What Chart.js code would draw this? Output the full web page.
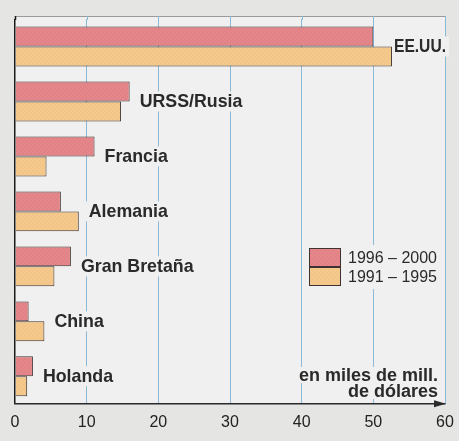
<!DOCTYPE html>
<html><head><meta charset="utf-8">
<script src="https://cdn.jsdelivr.net/npm/chart.js@4"></script>
<style>
html,body{margin:0;padding:0;background:#e5e5e4;overflow:hidden;}
#wrap{width:459px;height:441px;position:relative;}
</style>
</head><body>
<div id="wrap"><canvas id="c"></canvas></div>
<script>
const categories = ['EE.UU.', 'URSS/Rusia', 'Francia', 'Alemania', 'Gran Bretaña', 'China', 'Holanda'];
const series1996_2000 = [50, 16, 11.1, 6.4, 7.8, 1.9, 2.5];
const series1991_1995 = [52.6, 14.8, 4.4, 8.9, 5.5, 4.1, 1.7];
const seriesLabels = ['1996 – 2000', '1991 – 1995'];
const xTickValues = [0, 10, 20, 30, 40, 50, 60];
const unitLines = ['en miles de mill.', 'de dólares'];

const OUTER = '#e5e5e4', PLOT = '#eff0ef', GRID = '#8ab8d7', INK = '#2a2a2a';
const FONT = '"Liberation Sans", Arial, Helvetica, sans-serif';

function makePattern(base, line) {
  const c = document.createElement('canvas');
  c.width = 4; c.height = 4;
  const g = c.getContext('2d');
  g.fillStyle = base; g.fillRect(0, 0, 4, 4);
  g.strokeStyle = line; g.lineWidth = 1;
  g.beginPath(); g.moveTo(0, 4); g.lineTo(4, 0); g.stroke();
  return g.createPattern(c, 'repeat');
}
const redFill = makePattern('#e5878a', '#de8083');
const orangeFill = makePattern('#f5c98b', '#efc284');
const fills = [redFill, orangeFill];

const decorPlugin = {
  id: 'decor',
  beforeDraw(chart) {
    const { ctx, chartArea: a, scales: { x } } = chart;
    ctx.save();
    ctx.fillStyle = OUTER;
    ctx.fillRect(0, 0, chart.width, chart.height);
    const top = a.top - 3;
    ctx.fillStyle = PLOT;
    ctx.fillRect(a.left, top, a.right - a.left, a.bottom - top);
    ctx.strokeStyle = '#9a9a9a'; ctx.lineWidth = 1;
    ctx.beginPath(); ctx.moveTo(a.left, top + 0.5); ctx.lineTo(a.right, top + 0.5); ctx.stroke();
    xTickValues.forEach(v => {
      const px = Math.round(x.getPixelForValue(v)) + 0.5;
      ctx.strokeStyle = v === 0 ? '#1a1a1a' : GRID;
      ctx.lineWidth = v === 0 ? 1.5 : 1;
      ctx.beginPath(); ctx.moveTo(px, top); ctx.lineTo(px, a.top + 1); ctx.stroke();
    });
    ctx.restore();
  },
  afterDatasetsDraw(chart) {
    const { ctx, chartArea: a, scales: { x, y } } = chart;
    ctx.save();
    ctx.font = 'bold 17.8px ' + FONT;
    ctx.textBaseline = 'middle';
    categories.forEach((name, i) => {
      const maxV = Math.max(series1996_2000[i], series1991_1995[i]);
      const barEnd = x.getPixelForValue(maxV);
      const w = ctx.measureText(name).width;
      let tx = barEnd + 10;
      let maxW = w;
      if (tx + w > a.right + 1) { tx = barEnd + 2; maxW = Math.min(w, a.right + 1 - tx); }
      const cy = y.getPixelForValue(i);
      ctx.fillStyle = PLOT;
      const rx = Math.max(tx - 3, barEnd + 1);
      ctx.fillRect(rx, cy - 10, tx + maxW + 3 - rx, 20);
      ctx.fillStyle = INK;
      ctx.fillText(name, tx, cy + 1, maxW);
    });
    ctx.restore();
  },
  afterDraw(chart) {
    const { ctx, chartArea: a } = chart;
    ctx.save();
    ctx.fillStyle = '#2a2a2a';
    ctx.beginPath();
    ctx.moveTo(a.right + 1, a.bottom);
    ctx.lineTo(a.right - 11, a.bottom - 3.5);
    ctx.lineTo(a.right - 11, a.bottom + 3.5);
    ctx.closePath(); ctx.fill();
    const lx = 309, ly = 248, bw = 32, bh = 19;
    ctx.font = '16px ' + FONT;
    ctx.textBaseline = 'middle';
    ctx.fillStyle = PLOT;
    ctx.fillRect(lx - 3, ly - 3, 135, bh * 2 + 6);
    seriesLabels.forEach((lab, i) => {
      const by = ly + i * bh;
      ctx.fillStyle = fills[i];
      ctx.fillRect(lx, by, bw, bh);
      ctx.strokeStyle = '#3e3232'; ctx.lineWidth = 1;
      ctx.strokeRect(lx + 0.5, by + 0.5, bw - 1, bh - 1);
      ctx.fillStyle = INK;
      ctx.fillText(lab, lx + 39, by + bh / 2 + 1);
    });
    ctx.font = 'bold 18px ' + FONT;
    ctx.textAlign = 'right';
    unitLines.forEach((t, i) => {
      const ty = 375 + i * 16;
      const w = ctx.measureText(t).width;
      ctx.fillStyle = PLOT;
      ctx.fillRect(438 - w - 3, ty - 8, w + 6, 16);
      ctx.fillStyle = INK;
      ctx.fillText(t, 438, ty + 1);
    });
    ctx.restore();
  }
};

new Chart(document.getElementById('c'), {
  type: 'bar',
  data: {
    labels: categories,
    datasets: [
      { label: seriesLabels[0], data: series1996_2000, backgroundColor: redFill, borderColor: '#3e3232', borderWidth: 1 },
      { label: seriesLabels[1], data: series1991_1995, backgroundColor: orangeFill, borderColor: '#3e3232', borderWidth: 1 }
    ]
  },
  options: {
    indexAxis: 'y',
    responsive: true,
    maintainAspectRatio: false,
    animation: false,
    devicePixelRatio: 1,
    layout: { padding: { left: 15, right: 14, top: 19, bottom: 0 } },
    datasets: { bar: { categoryPercentage: 0.726, barPercentage: 1.0 } },
    plugins: { legend: { display: false }, tooltip: { enabled: false } },
    scales: {
      y: { display: false },
      x: {
        min: 0, max: 60,
        afterBuildTicks(scale) { scale.ticks = xTickValues.map(v => ({ value: v })); },
        afterFit(scale) { scale.paddingLeft = 0; scale.paddingRight = 0; },
        ticks: { color: '#222', font: { family: FONT, size: 16 }, padding: 9, maxRotation: 0 },
        grid: {
          drawTicks: false,
          color: c => (c.tick && c.tick.value === 0) ? '#1a1a1a' : GRID,
          lineWidth: c => (c.tick && c.tick.value === 0) ? 1.5 : 1
        },
        border: { display: true, color: '#2a2a2a', width: 1.5 }
      }
    }
  },
  plugins: [decorPlugin]
});
</script>
</body></html>
